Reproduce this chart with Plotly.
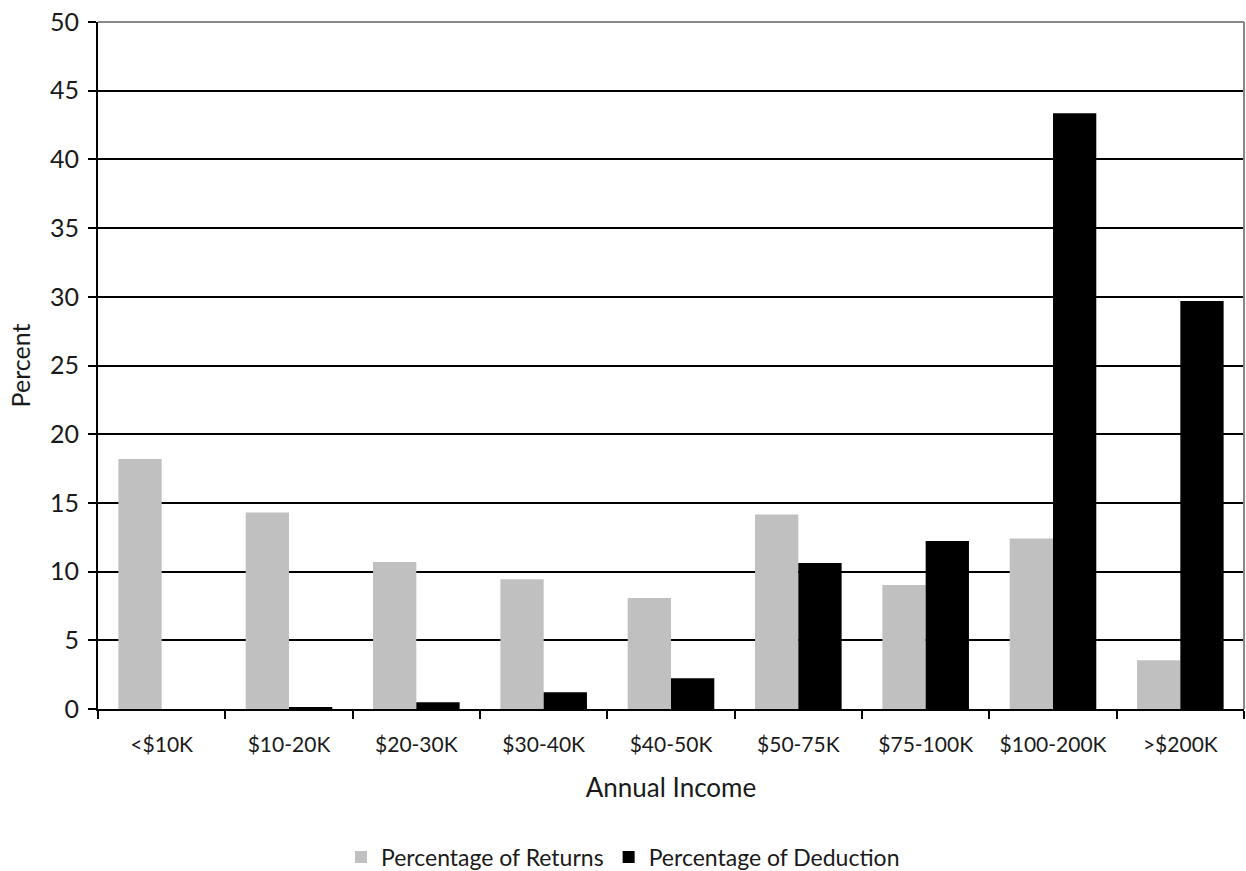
import plotly.graph_objects as go

categories = ["<$10K", "$10-20K", "$20-30K", "$30-40K", "$40-50K", "$50-75K", "$75-100K", "$100-200K", ">$200K"]
returns_pct = [18.2, 14.3, 10.7, 9.45, 8.07, 14.15, 9.02, 12.4, 3.55]
deduction_pct = [0.0, 0.15, 0.5, 1.22, 2.24, 10.62, 12.22, 43.35, 29.7]
y_ticks = [0, 5, 10, 15, 20, 25, 30, 35, 40, 45, 50]

FONT = "Lato, 'Open Sans', sans-serif"

fig = go.Figure()
fig.add_trace(go.Bar(x=categories, y=returns_pct, name="Percentage of Returns",
                     marker=dict(color="#c0c0c0", line=dict(width=0))))
fig.add_trace(go.Bar(x=categories, y=deduction_pct, name="Percentage of Deduction",
                     marker=dict(color="#000000", line=dict(width=0))))

fig.update_layout(
    width=1246, height=871,
    margin=dict(l=98, r=2, t=22, b=162, autoexpand=False),
    paper_bgcolor="white", plot_bgcolor="white",
    barmode="group", bargap=0.32, bargroupgap=0,
    font=dict(family=FONT, color="#1a1a1a"),
    showlegend=True,
    legend=dict(orientation="h", x=0.5, xanchor="center", xref="container",
                y=-0.2154, yanchor="middle", font=dict(size=23), traceorder="normal",
                itemwidth=30, tracegroupgap=0),
)
fig.update_xaxes(
    type="category", tickson="boundaries", ticks="outside", ticklen=8, tickwidth=2,
    tickcolor="black", showline=True, linecolor="black", linewidth=2,
    tickfont=dict(size=21), showgrid=False, automargin=False, ticklabelstandoff=16,
    title=dict(text="Annual Income", font=dict(size=26), standoff=24),
)
fig.update_yaxes(
    range=[0, 50], tickvals=y_ticks, ticks="outside", ticklen=8, tickwidth=2,
    tickcolor="black", showline=True, linecolor="black", linewidth=2,
    showgrid=True, gridcolor="black", gridwidth=2, zeroline=False,
    tickfont=dict(size=25), automargin=False, ticklabelstandoff=4,
    title=dict(text="Percent", font=dict(size=25), standoff=12),
)
fig.add_shape(type="line", xref="paper", yref="paper", x0=0, x1=1, y0=1, y1=1,
              line=dict(color="#888888", width=2), layer="above")
fig.add_shape(type="line", xref="paper", yref="paper", x0=1, x1=1, y0=0, y1=1,
              line=dict(color="#888888", width=2), layer="above")

fig.write_html("out.html")
